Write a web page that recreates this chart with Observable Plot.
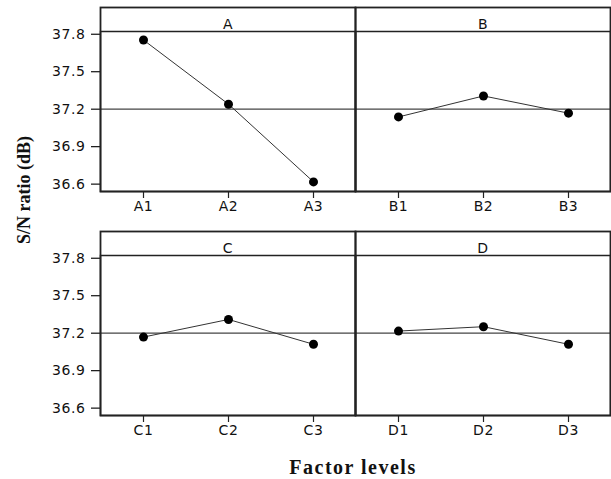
<!DOCTYPE html>
<html><head><meta charset="utf-8">
<script src="https://cdn.jsdelivr.net/npm/d3@7"></script>
<script src="https://cdn.jsdelivr.net/npm/@observablehq/plot@0.6"></script>
<style>
body{margin:0;background:#fff;}
#wrap{position:relative;width:611px;height:479px;overflow:hidden;}
.lab{position:absolute;font-family:"Liberation Serif","Times New Roman",serif;font-weight:bold;color:#111;white-space:nowrap;line-height:1;}
</style></head><body>
<div id="wrap"></div>
<script>
// ---- data ----
const factors = ["A", "B", "C", "D"];
const panelCol = [0, 1, 0, 1];
const panelRow = [0, 0, 1, 1];
const levelsA = ["A1", "A2", "A3"];
const levelsB = ["B1", "B2", "B3"];
const levelsC = ["C1", "C2", "C3"];
const levelsD = ["D1", "D2", "D3"];
const snA = [37.754, 37.240, 36.618];
const snB = [37.138, 37.306, 37.168];
const snC = [37.169, 37.310, 37.111];
const snD = [37.217, 37.252, 37.111];
const meanSN = 37.2;
const yTicks = [36.6, 36.9, 37.2, 37.5, 37.8];
const yDomain = [36.541, 37.822];
const yLabel = "S/N ratio (dB)";
const xLabel = "Factor levels";

const levelSets = [levelsA, levelsB, levelsC, levelsD];
const valueSets = [snA, snB, snC, snD];
const rows = [];
factors.forEach((f, i) => {
  levelSets[i].forEach((lv, j) => {
    rows.push({factor: f, col: panelCol[i], row: panelRow[i], idx: j + 1, level: lv, value: valueSets[i][j]});
  });
});
const strips = factors.map((f, i) => ({factor: f, col: panelCol[i], row: panelRow[i]}));

// ---- layout ----
const W = 611, H = 479;
const mTop = 31, mBottom = 63, mLeft = 100, mRight = 1;
const fyPad = 0.285;
const bw = (H - mTop - mBottom) * (1 - fyPad) / (2 - fyPad);

const chart = Plot.plot({
  width: W,
  height: H,
  marginTop: mTop,
  marginBottom: mBottom,
  marginLeft: mLeft,
  marginRight: mRight,
  style: {fontFamily: "DejaVu Sans, sans-serif", fontSize: "14px", letterSpacing: "0.6px", color: "#111", background: "#fff", overflow: "visible"},
  fx: {axis: null, padding: 0},
  fy: {axis: null, paddingInner: fyPad, paddingOuter: 0},
  x: {axis: null, type: "point", domain: [1, 2, 3], padding: 0.5},
  y: {domain: yDomain},
  marks: [
    Plot.ruleY([meanSN], {stroke: "#444", strokeWidth: 1.2}),
    Plot.line(rows, {x: "idx", y: "value", fx: "col", fy: "row", z: "factor", stroke: "#333", strokeWidth: 1}),
    Plot.dot(rows, {x: "idx", y: "value", fx: "col", fy: "row", r: 4.5, fill: "#000", stroke: "none"}),
    Plot.tickX(rows, {x: "idx", fx: "col", fy: "row", insetTop: bw, insetBottom: -7, stroke: "#222", strokeWidth: 1.2}),
    Plot.text(rows, {x: "idx", fx: "col", fy: "row", text: "level", frameAnchor: "bottom", dy: 19.5, fill: "#111"}),
    Plot.text(strips, {fx: "col", fy: "row", text: "factor", frameAnchor: "top", dy: -12, fill: "#111"}),
    Plot.axisY(yTicks, {tickSize: 9, tickPadding: 6, tickFormat: d => d.toFixed(1), label: null, strokeWidth: 1.2}),
    Plot.frame({insetTop: -24, stroke: "#222", strokeWidth: 1.8}),
    Plot.frame({stroke: "#222", strokeWidth: 1.5})
  ]
});

const wrap = document.getElementById("wrap");
chart.style.position = "absolute";
chart.style.left = "0px";
chart.style.top = "0px";
wrap.appendChild(chart);

const yl = document.createElement("div");
yl.className = "lab";
yl.textContent = yLabel;
yl.style.fontSize = "18px";
yl.style.left = "24px";
yl.style.top = "190px";
yl.style.transform = "translate(-50%,-50%) rotate(-90deg)";
wrap.appendChild(yl);

const xl = document.createElement("div");
xl.className = "lab";
xl.textContent = xLabel;
xl.style.fontSize = "20px";
xl.style.letterSpacing = "1.5px";
xl.style.left = "353px";
xl.style.top = "467px";
xl.style.transform = "translate(-50%,-50%)";
wrap.appendChild(xl);
</script>
</body></html>
